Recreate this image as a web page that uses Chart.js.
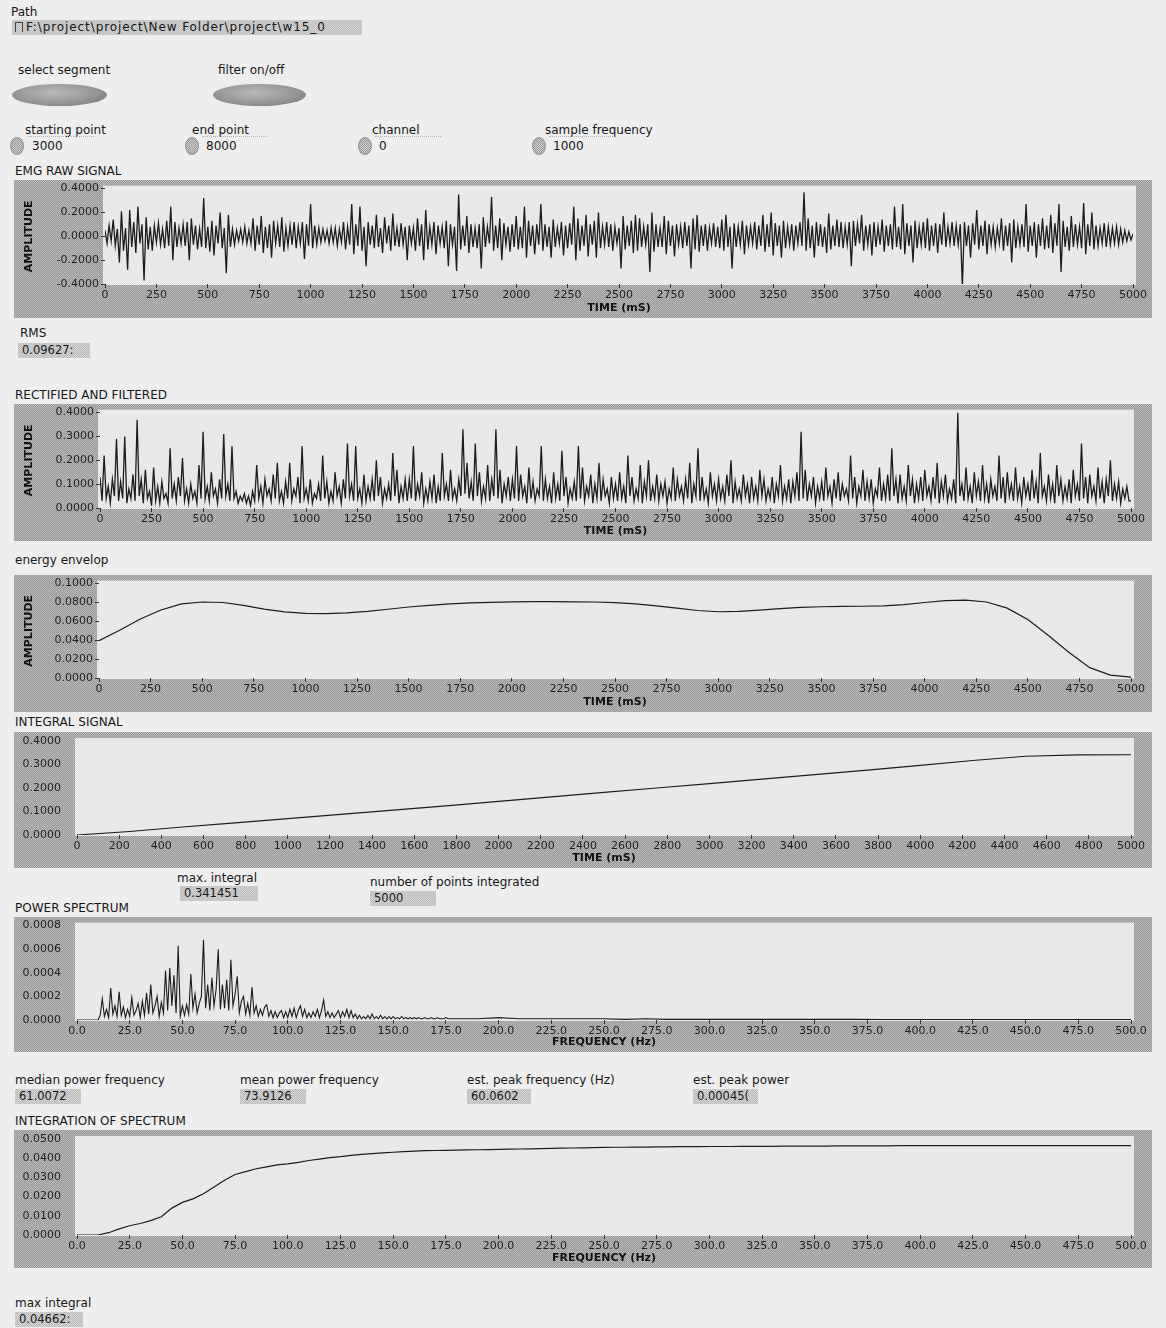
<!DOCTYPE html>
<html>
<head>
<meta charset="utf-8">
<title>EMG analysis panel</title>
<script src="https://cdn.jsdelivr.net/npm/chart.js@4.4.1/dist/chart.umd.min.js"></script>
<style>
body { margin: 0; width: 1166px; height: 1328px; background: #eeeeee; font-family: "DejaVu Sans", sans-serif; color: #161616; position: relative; overflow: hidden; }
.lbl { position: absolute; font-size: 12px; line-height: 14px; white-space: nowrap; }
.ind { position: absolute; height: 15px; background: repeating-conic-gradient(#bdbdbd 0 25%, #d3d3d3 0 50%) 0 0/2px 2px; font-size: 11.5px; line-height: 15px; padding-left: 4px; box-sizing: border-box; white-space: nowrap; overflow: hidden; }
.frame { position: absolute; left: 14px; width: 1138px; background: repeating-conic-gradient(#979797 0 25%, #bababa 0 50%) 0 0/2px 2px; }
.frame canvas { position: absolute; left: 0; top: 0; }
.oval { position: absolute; height: 22px; border-radius: 50%; background: radial-gradient(ellipse at 45% 40%, #b9b9b9 0%, #999999 50%, #7a7a7a 90%, rgba(120,120,120,0) 100%); }
.spin { position: absolute; width: 14px; height: 18px; border-radius: 50%; background: repeating-conic-gradient(#9a9a9a 0 25%, #d0d0d0 0 50%) 0 0/2px 2px; box-shadow: inset 0 0 3px #777; }
.num { position: absolute; height: 18px; border-top: 1px dotted #b4b4b4; font-size: 12px; line-height: 19px; padding-left: 4px; box-sizing: border-box; }
</style>
</head>
<body>

<!-- controls -->
<div class="lbl" style="left:11px; top:5px;">Path</div>
<div class="ind" style="left:12px; top:20px; width:350px; font-size:12px; letter-spacing:0.9px; padding-left:3px;"><span style="display:inline-block; width:6px; height:9px; border:1px solid #444; border-bottom:none; margin-right:3px; vertical-align:-1px;"></span>F:\project\project\New Folder\project\w15_0</div>

<div class="lbl" style="left:18px; top:63px;">select segment</div>
<div class="oval" style="left:12px; top:84px; width:95px;"></div>
<div class="lbl" style="left:218px; top:63px;">filter on/off</div>
<div class="oval" style="left:213px; top:84px; width:93px;"></div>

<div class="lbl" style="left:25px; top:123px;">starting point</div>
<div class="spin" style="left:10px; top:137px;"></div>
<div class="num" style="left:28px; top:136px; width:66px;">3000</div>
<div class="lbl" style="left:192px; top:123px;">end point</div>
<div class="spin" style="left:185px; top:137px;"></div>
<div class="num" style="left:202px; top:136px; width:66px;">8000</div>
<div class="lbl" style="left:372px; top:123px;">channel</div>
<div class="spin" style="left:358px; top:137px;"></div>
<div class="num" style="left:375px; top:136px; width:66px;">0</div>
<div class="lbl" style="left:545px; top:123px;">sample frequency</div>
<div class="spin" style="left:532px; top:137px;"></div>
<div class="num" style="left:549px; top:136px; width:64px;">1000</div>

<!-- graphs -->
<div class="lbl" style="left:15px; top:164px;">EMG RAW SIGNAL</div>
<div class="frame" style="top:180px; height:138px;"><canvas id="raw-chart" width="1138" height="138"></canvas></div>

<div class="lbl" style="left:20px; top:326px;">RMS</div>
<div class="ind" style="left:18px; top:343px; width:72px;">0.09627:</div>

<div class="lbl" style="left:15px; top:388px;">RECTIFIED AND FILTERED</div>
<div class="frame" style="top:404px; height:137px;"><canvas id="rect-chart" width="1138" height="137"></canvas></div>

<div class="lbl" style="left:15px; top:553px;">energy envelop</div>
<div class="frame" style="top:575px; height:137px;"><canvas id="env-chart" width="1138" height="137"></canvas></div>

<div class="lbl" style="left:15px; top:715px;">INTEGRAL SIGNAL</div>
<div class="frame" style="top:732px; height:136px;"><canvas id="int-chart" width="1138" height="136"></canvas></div>

<div class="lbl" style="left:177px; top:871px;">max. integral</div>
<div class="ind" style="left:180px; top:886px; width:78px;">0.341451</div>
<div class="lbl" style="left:370px; top:875px;">number of points integrated</div>
<div class="ind" style="left:370px; top:891px; width:66px;">5000</div>

<div class="lbl" style="left:15px; top:901px;">POWER SPECTRUM</div>
<div class="frame" style="top:917px; height:135px;"><canvas id="spec-chart" width="1138" height="135"></canvas></div>

<div class="lbl" style="left:15px; top:1073px;">median power frequency</div>
<div class="ind" style="left:15px; top:1089px; width:66px;">61.0072</div>
<div class="lbl" style="left:240px; top:1073px;">mean power frequency</div>
<div class="ind" style="left:240px; top:1089px; width:66px;">73.9126</div>
<div class="lbl" style="left:467px; top:1073px;">est. peak frequency (Hz)</div>
<div class="ind" style="left:467px; top:1089px; width:64px;">60.0602</div>
<div class="lbl" style="left:693px; top:1073px;">est. peak power</div>
<div class="ind" style="left:693px; top:1089px; width:65px;">0.00045(</div>

<div class="lbl" style="left:15px; top:1114px;">INTEGRATION OF SPECTRUM</div>
<div class="frame" style="top:1130px; height:138px;"><canvas id="cum-chart" width="1138" height="138"></canvas></div>

<div class="lbl" style="left:15px; top:1296px;">max integral</div>
<div class="ind" style="left:15px; top:1312px; width:68px;">0.04662:</div>

<script>
// sample spacing of the time traces (ms)
const rawStep = 10;
const envStep = 100;
const intStep = 250;

// EMG raw signal, every 10 ms from 0 to 5000 (one row = 500 ms)
const rawSignal = [
    0.05, -0.06, 0.09, -0.04, 0.14, -0.08, 0.06, -0.22, 0.21, -0.12, 0.07, -0.28, 0.22, -0.09, 0.12, -0.14, 0.25, -0.06, 0.1, -0.37, 0.16, -0.11, 0.08, -0.12, 0.09, -0.05, 0.11, -0.07, 0.06, -0.1, 0.13, -0.08, 0.25, -0.2, 0.12, -0.09, 0.07, -0.06, 0.1, -0.08, 0.12, -0.2, 0.15, -0.07, 0.09, -0.11, 0.06, -0.09, 0.32, -0.1,
    0.08, -0.13, 0.13, -0.16, 0.09, -0.06, 0.2, -0.1, 0.07, -0.31, 0.18, -0.09, 0.06, -0.07, 0.05, -0.04, 0.06, -0.05, 0.08, -0.06, 0.05, -0.06, 0.15, -0.12, 0.09, -0.07, 0.17, -0.14, 0.08, -0.1, 0.1, -0.18, 0.13, -0.06, 0.09, -0.09, 0.16, -0.13, 0.07, -0.08, 0.09, -0.07, 0.12, -0.1, 0.08, -0.06, 0.12, -0.19, 0.1, -0.08,
    0.27, -0.1, 0.09, -0.07, 0.07, -0.05, 0.06, -0.04, 0.05, -0.06, 0.07, -0.05, 0.07, -0.08, 0.06, -0.05, 0.12, -0.11, 0.08, -0.07, 0.27, -0.15, 0.1, -0.08, 0.25, -0.12, 0.08, -0.25, 0.12, -0.07, 0.09, -0.1, 0.18, -0.09, 0.07, -0.14, 0.16, -0.06, 0.09, -0.12, 0.19, -0.08, 0.07, -0.09, 0.11, -0.07, 0.08, -0.2, 0.09, -0.06,
    0.07, -0.12, 0.15, -0.08, 0.1, -0.2, 0.22, -0.11, 0.08, -0.07, 0.12, -0.15, 0.09, -0.06, 0.08, -0.1, 0.13, -0.25, 0.1, -0.07, 0.08, -0.29, 0.35, -0.11, 0.09, -0.08, 0.17, -0.14, 0.1, -0.09, 0.07, -0.1, 0.1, -0.27, 0.16, -0.09, 0.08, -0.06, 0.33, -0.12, 0.09, -0.1, 0.15, -0.2, 0.11, -0.07, 0.08, -0.13, 0.1, -0.09,
    0.17, -0.11, 0.08, -0.1, 0.25, -0.18, 0.13, -0.08, 0.09, -0.15, 0.1, -0.07, 0.27, -0.12, 0.1, -0.09, 0.08, -0.18, 0.14, -0.09, 0.07, -0.06, 0.12, -0.16, 0.09, -0.1, 0.11, -0.07, 0.25, -0.2, 0.15, -0.12, 0.09, -0.08, 0.18, -0.17, 0.1, -0.07, 0.13, -0.18, 0.2, -0.1, 0.08, -0.07, 0.12, -0.09, 0.1, -0.12, 0.08, -0.06,
    0.07, -0.27, 0.17, -0.11, 0.09, -0.08, 0.13, -0.14, 0.18, -0.12, 0.15, -0.09, 0.08, -0.07, 0.1, -0.3, 0.2, -0.13, 0.1, -0.09, 0.07, -0.09, 0.17, -0.15, 0.13, -0.08, 0.09, -0.17, 0.1, -0.07, 0.08, -0.1, 0.12, -0.08, 0.09, -0.27, 0.15, -0.11, 0.18, -0.13, 0.09, -0.08, 0.1, -0.12, 0.07, -0.06, 0.11, -0.09, 0.08, -0.1,
    0.14, -0.12, 0.18, -0.09, 0.08, -0.27, 0.11, -0.09, 0.08, -0.07, 0.13, -0.15, 0.09, -0.07, 0.08, -0.06, 0.12, -0.11, 0.09, -0.08, 0.18, -0.13, 0.1, -0.09, 0.2, -0.16, 0.11, -0.08, 0.09, -0.18, 0.13, -0.1, 0.08, -0.07, 0.1, -0.12, 0.09, -0.06, 0.12, -0.08, 0.37, -0.12, 0.15, -0.1, 0.09, -0.18, 0.12, -0.08, 0.1, -0.09,
    0.08, -0.14, 0.19, -0.11, 0.09, -0.08, 0.14, -0.09, 0.12, -0.1, 0.08, -0.07, 0.12, -0.25, 0.13, -0.08, 0.1, -0.06, 0.18, -0.12, 0.09, -0.07, 0.1, -0.16, 0.12, -0.09, 0.08, -0.07, 0.14, -0.13, 0.09, -0.08, 0.1, -0.11, 0.25, -0.09, 0.08, -0.11, 0.27, -0.15, 0.11, -0.08, 0.09, -0.22, 0.13, -0.1, 0.08, -0.07, 0.12, -0.1,
    0.15, -0.12, 0.09, -0.08, 0.11, -0.14, 0.1, -0.07, 0.2, -0.09, 0.08, -0.06, 0.12, -0.08, 0.09, -0.07, 0.1, -0.43, 0.12, -0.08, 0.09, -0.18, 0.11, -0.07, 0.22, -0.11, 0.09, -0.08, 0.13, -0.15, 0.1, -0.07, 0.08, -0.09, 0.07, -0.06, 0.15, -0.12, 0.09, -0.08, 0.11, -0.22, 0.14, -0.1, 0.08, -0.07, 0.1, -0.09, 0.27, -0.13,
    0.09, -0.08, 0.12, -0.18, 0.1, -0.08, 0.15, -0.11, 0.09, -0.1, 0.18, -0.14, 0.11, -0.08, 0.27, -0.3, 0.13, -0.09, 0.08, -0.12, 0.17, -0.09, 0.1, -0.07, 0.08, -0.1, 0.28, -0.15, 0.1, -0.08, 0.2, -0.11, 0.09, -0.08, 0.07, -0.06, 0.11, -0.09, 0.08, -0.07, 0.07, -0.06, 0.08, -0.07, 0.06, -0.05, 0.05, -0.04, 0.04, -0.03,
    0.02
];

// rectified and filtered, every 10 ms
const rectSignal = [
    0.13, 0.03, 0.22, 0.04, 0.09, 0.02, 0.12, 0.05, 0.29, 0.03, 0.11, 0.04, 0.30, 0.02, 0.08, 0.04, 0.14, 0.03, 0.37, 0.05, 0.12, 0.02, 0.16, 0.04, 0.07, 0.01, 0.17, 0.03, 0.09, 0.02, 0.11, 0.04, 0.06, 0.02, 0.25, 0.04, 0.10, 0.03, 0.13, 0.05, 0.21, 0.03, 0.08, 0.02, 0.10, 0.04, 0.07, 0.02, 0.18, 0.04,
    0.32, 0.04, 0.09, 0.03, 0.15, 0.05, 0.08, 0.02, 0.12, 0.04, 0.31, 0.05, 0.10, 0.03, 0.26, 0.04, 0.07, 0.02, 0.05, 0.03, 0.06, 0.02, 0.05, 0.01, 0.07, 0.03, 0.18, 0.04, 0.09, 0.02, 0.12, 0.05, 0.08, 0.03, 0.14, 0.04, 0.19, 0.03, 0.07, 0.02, 0.11, 0.04, 0.19, 0.03, 0.08, 0.05, 0.13, 0.02, 0.26, 0.04,
    0.08, 0.03, 0.12, 0.02, 0.06, 0.04, 0.10, 0.03, 0.22, 0.04, 0.11, 0.02, 0.07, 0.03, 0.15, 0.05, 0.09, 0.02, 0.12, 0.04, 0.27, 0.05, 0.10, 0.03, 0.26, 0.04, 0.08, 0.02, 0.14, 0.03, 0.09, 0.04, 0.12, 0.03, 0.20, 0.05, 0.13, 0.02, 0.08, 0.04, 0.10, 0.03, 0.23, 0.05, 0.16, 0.02, 0.09, 0.04, 0.12, 0.03,
    0.12, 0.04, 0.26, 0.03, 0.10, 0.05, 0.15, 0.02, 0.08, 0.03, 0.11, 0.04, 0.14, 0.02, 0.09, 0.03, 0.23, 0.05, 0.10, 0.03, 0.16, 0.04, 0.08, 0.03, 0.12, 0.05, 0.33, 0.06, 0.19, 0.04, 0.11, 0.03, 0.27, 0.05, 0.15, 0.03, 0.09, 0.04, 0.18, 0.03, 0.12, 0.05, 0.33, 0.04, 0.16, 0.02, 0.10, 0.05, 0.13, 0.03,
    0.12, 0.04, 0.26, 0.03, 0.14, 0.05, 0.09, 0.02, 0.17, 0.04, 0.11, 0.03, 0.08, 0.05, 0.26, 0.03, 0.12, 0.04, 0.09, 0.02, 0.15, 0.04, 0.10, 0.03, 0.24, 0.05, 0.13, 0.02, 0.08, 0.04, 0.11, 0.03, 0.26, 0.04, 0.17, 0.03, 0.09, 0.05, 0.14, 0.02, 0.10, 0.04, 0.19, 0.03, 0.12, 0.05, 0.08, 0.02, 0.13, 0.04,
    0.10, 0.03, 0.15, 0.04, 0.09, 0.02, 0.22, 0.05, 0.13, 0.03, 0.08, 0.04, 0.18, 0.02, 0.11, 0.05, 0.20, 0.03, 0.09, 0.04, 0.14, 0.03, 0.10, 0.05, 0.11, 0.02, 0.08, 0.04, 0.17, 0.03, 0.12, 0.05, 0.09, 0.03, 0.12, 0.04, 0.19, 0.02, 0.10, 0.05, 0.25, 0.03, 0.13, 0.04, 0.08, 0.02, 0.15, 0.05, 0.10, 0.03,
    0.12, 0.04, 0.09, 0.03, 0.14, 0.05, 0.20, 0.02, 0.11, 0.04, 0.08, 0.03, 0.14, 0.05, 0.10, 0.02, 0.13, 0.04, 0.09, 0.03, 0.16, 0.05, 0.12, 0.03, 0.08, 0.04, 0.13, 0.02, 0.10, 0.05, 0.18, 0.03, 0.09, 0.04, 0.12, 0.02, 0.11, 0.05, 0.15, 0.03, 0.32, 0.04, 0.16, 0.03, 0.10, 0.05, 0.13, 0.02, 0.09, 0.04,
    0.11, 0.03, 0.17, 0.05, 0.09, 0.02, 0.12, 0.04, 0.15, 0.03, 0.10, 0.05, 0.08, 0.03, 0.22, 0.04, 0.13, 0.02, 0.09, 0.05, 0.16, 0.03, 0.11, 0.04, 0.12, 0.02, 0.08, 0.05, 0.17, 0.03, 0.10, 0.04, 0.14, 0.03, 0.25, 0.05, 0.12, 0.02, 0.14, 0.04, 0.09, 0.03, 0.18, 0.05, 0.12, 0.02, 0.10, 0.04, 0.13, 0.03,
    0.16, 0.05, 0.09, 0.03, 0.13, 0.04, 0.19, 0.02, 0.11, 0.05, 0.14, 0.03, 0.08, 0.04, 0.12, 0.02, 0.40, 0.05, 0.10, 0.03, 0.17, 0.04, 0.09, 0.02, 0.15, 0.05, 0.11, 0.03, 0.18, 0.04, 0.10, 0.02, 0.12, 0.05, 0.09, 0.03, 0.22, 0.04, 0.13, 0.02, 0.15, 0.05, 0.10, 0.03, 0.17, 0.04, 0.09, 0.02, 0.13, 0.05,
    0.10, 0.03, 0.16, 0.04, 0.11, 0.02, 0.23, 0.05, 0.09, 0.03, 0.14, 0.04, 0.10, 0.02, 0.18, 0.05, 0.12, 0.03, 0.09, 0.04, 0.12, 0.02, 0.16, 0.05, 0.10, 0.03, 0.27, 0.04, 0.13, 0.02, 0.14, 0.05, 0.09, 0.03, 0.17, 0.04, 0.11, 0.02, 0.12, 0.05, 0.20, 0.03, 0.10, 0.04, 0.11, 0.02, 0.08, 0.04, 0.09, 0.03,
    0.03
];

// energy envelope, every 100 ms
const envelope = [
    0.0396, 0.0505, 0.0625, 0.0720, 0.0785, 0.0805, 0.0800, 0.0770, 0.0730, 0.0700,
    0.0685, 0.0682, 0.0690, 0.0705, 0.0728, 0.0752, 0.0770, 0.0785, 0.0795, 0.0802,
    0.0806, 0.0808, 0.0808, 0.0807, 0.0805, 0.0798, 0.0785, 0.0765, 0.0740, 0.0715,
    0.0702, 0.0705, 0.0718, 0.0735, 0.0748, 0.0755, 0.0758, 0.0760, 0.0765, 0.0778,
    0.0800, 0.0820, 0.0825, 0.0805, 0.0740, 0.0620, 0.0450, 0.0270, 0.0110, 0.0030,
    0.0010
];

// integral signal, every 250 ms
const integral = [
    0, 0.015, 0.034, 0.052, 0.070, 0.088, 0.106, 0.124, 0.143, 0.162, 0.181,
    0.200, 0.219, 0.238, 0.257, 0.276, 0.296, 0.317, 0.335, 0.341, 0.3415
];

// power spectrum: 1 Hz bins from 0 to 179 Hz, then 10 Hz bins from 180 to 500 Hz
const specStep = 1;
const tailStart = 180;
const tailStep = 10;
const spectrum = [
    0, 0, 0, 0, 0, 0, 0, 0, 0, 0,
    0, 0.00004, 0.00018, 0.00003, 0.00009, 0.00002, 0.00027, 0.00005, 0.00012, 0.00003,
    0.00024, 0.00004, 0.00011, 0.00002, 0.00009, 0.00003, 0.00019, 0.00004, 0.00008, 0.00014,
    0.00002, 0.00016, 0.00004, 0.00023, 0.00005, 0.00030, 0.00006, 0.00012, 0.00020, 0.00003,
    0.00015, 0.00006, 0.00042, 0.00008, 0.00044, 0.00012, 0.00038, 0.00006, 0.00063, 0.00003,
    0.00012, 0.00004, 0.00013, 0.00005, 0.00039, 0.00010, 0.00022, 0.00006, 0.00014, 0.00020,
    0.00068, 0.00010, 0.00030, 0.00008, 0.00036, 0.00012, 0.00026, 0.00060, 0.00009, 0.00030,
    0.00010, 0.00034, 0.00008, 0.00051, 0.00012, 0.00022, 0.00037, 0.00006, 0.00016, 0.00020,
    0.00005, 0.00014, 0.00004, 0.00028, 0.00006, 0.00012, 0.00003, 0.00009, 0.00004, 0.00011,
    0.00013, 0.00003, 0.00008, 0.00002, 0.00007, 0.00002, 0.00006, 0.00008, 0.00002, 0.00007,
    0.00002, 0.00009, 0.00003, 0.00010, 0.00002, 0.00008, 0.00012, 0.00003, 0.00009, 0.00002,
    0.00006, 0.00002, 0.00007, 0.00003, 0.00009, 0.00002, 0.00008, 0.00017, 0.00003, 0.00007,
    0.00002, 0.00006, 0.00002, 0.00005, 0.00008, 0.00002, 0.00007, 0.00003, 0.00009, 0.00002,
    0.00008, 0.00002, 0.00005, 0.00001, 0.00004, 0.00001, 0.00003, 0.00001, 0.00004, 0.00001,
    0.00005, 0.00001, 0.00003, 0.00001, 0.00004, 0.00001, 0.00003, 0.00001, 0.00003, 0.00001,
    0.00003, 0.00001, 0.00002, 0.00001, 0.00003, 0.00001, 0.00002, 0.00001, 0.00002, 0.00001,
    0.00002, 0.00001, 0.00002, 0.00001, 0.00001, 0.00002, 0.00001, 0.00001, 0.00002, 0.00001,
    0.00001, 0.00002, 0.00001, 0.00001, 0.00001, 0.00002, 0.00001, 0.00001, 0.00001, 0.00001
];
const spectrumTail = [
    0.00001, 0.00001, 0.00002, 0.00001, 0.00001, 0.00001, 0.00001, 0.00001, 0.000005, 0.00001,
    0.000005, 0.000005, 0.000005, 0.000005, 0.000005, 0.000005, 0.000005, 0.000005, 0.000005, 0.000005,
    0.000003, 0.000003, 0.000003, 0.000003, 0.000003, 0.000003, 0.000003, 0.000003, 0.000003, 0.000003,
    0.000003, 0.000003, 0.000003
];

// integration of spectrum, every 5 Hz
const cumStep = 5;
const cumSpectrum = [
    0, 0, 0, 0.0012, 0.0032, 0.0048, 0.0060, 0.0075, 0.0095, 0.0140,
    0.0170, 0.0188, 0.0215, 0.0250, 0.0285, 0.0315, 0.0330, 0.0345, 0.0355, 0.0365,
    0.0370, 0.0378, 0.0388, 0.0395, 0.0403, 0.0408, 0.0415, 0.0420, 0.0424, 0.0428,
    0.0431, 0.0434, 0.0437, 0.0439, 0.0440, 0.0441, 0.0442, 0.0443, 0.0444, 0.0445,
    0.0446, 0.0447, 0.0448, 0.0449, 0.0450, 0.0451, 0.0452, 0.0453, 0.0454, 0.0455,
    0.0456, 0.0457, 0.0457, 0.0458, 0.0458, 0.0459, 0.0459, 0.0460, 0.0460, 0.0460,
    0.0461, 0.0461, 0.0461, 0.0462, 0.0462, 0.0462, 0.0462, 0.0463, 0.0463, 0.0463,
    0.0463, 0.0463, 0.0464, 0.0464, 0.0464, 0.0464, 0.0464, 0.0464, 0.0465, 0.0465,
    0.0465, 0.0465, 0.0465, 0.0465, 0.0465, 0.0465, 0.0466, 0.0466, 0.0466, 0.0466,
    0.0466, 0.0466, 0.0466, 0.0466, 0.0466, 0.0466, 0.0466, 0.0466, 0.0466, 0.0466,
    0.0466
];

// x tick spacing
const timeTicks = 250;
const integralTicks = 200;
const freqTicks = 25;

// turn a value list into {x, y} points
function toPoints(values, start, step) {
    return values.map((v, i) => ({ x: start + i * step, y: v }));
}

const specPoints = toPoints(spectrum, 0, specStep).concat(toPoints(spectrumTail, tailStart, tailStep));

// light dithered plot area, like the LabVIEW graph
function dither(ctx, a, b) {
    const c = document.createElement("canvas");
    c.width = 2; c.height = 2;
    const g = c.getContext("2d");
    g.fillStyle = a; g.fillRect(0, 0, 2, 2);
    g.fillStyle = b; g.fillRect(0, 0, 1, 1); g.fillRect(1, 1, 1, 1);
    return ctx.createPattern(c, "repeat");
}

const plotBg = {
    id: "plotBg",
    beforeDraw(chart) {
        const a = chart.chartArea;
        const ctx = chart.ctx;
        ctx.save();
        ctx.fillStyle = dither(ctx, "#e3e3e3", "#eeeeee");
        ctx.fillRect(a.left - 2, a.top - 3, a.right - a.left + 5, a.bottom - a.top + 4);
        ctx.restore();
    }
};

const tickFont = { family: "DejaVu Sans", size: 11 };
const titleFont = { family: "DejaVu Sans", size: 11, weight: "bold" };

function drawGraph(id, o) {
    // short y tick marks sitting next to the labels (away from the plot) when yGap is set
    const yGrid = o.yGap
        ? { drawOnChartArea: false, drawTicks: true, tickLength: 4 + o.yGap, color: "#333", tickBorderDash: [4, 40], tickBorderDashOffset: o.yGap }
        : { drawOnChartArea: false, drawTicks: true, tickLength: 4, color: "#333" };
    new Chart(document.getElementById(id), {
        type: "line",
        data: {
            datasets: [{
                data: o.points,
                borderColor: "#1c1c1c",
                borderWidth: o.lineWidth || 1,
                pointRadius: 0,
                tension: 0
            }]
        },
        options: {
            responsive: false,
            animation: false,
            devicePixelRatio: 1,
            events: [],
            layout: { padding: { top: o.top, right: o.right, left: 0, bottom: 0 } },
            plugins: { legend: { display: false }, tooltip: { enabled: false } },
            scales: {
                x: {
                    type: "linear",
                    min: o.xMin,
                    max: o.xMax,
                    afterFit: s => { s.height = o.xH; },
                    border: { display: false },
                    grid: { drawOnChartArea: false, drawTicks: true, tickLength: 4, color: "#333" },
                    ticks: {
                        stepSize: o.xStep, autoSkip: false, maxRotation: 0, padding: 1,
                        color: "#1e1e1e", font: tickFont,
                        callback: v => v.toFixed(o.xDec)
                    },
                    title: { display: true, text: o.xTitle, color: "#111", font: titleFont, padding: { top: 0, bottom: 3 } }
                },
                y: {
                    type: "linear",
                    min: o.yMin,
                    max: o.yMax,
                    afterFit: s => { s.width = o.yW; },
                    border: { display: false },
                    grid: yGrid,
                    ticks: {
                        stepSize: o.yStep, padding: 2,
                        color: "#1e1e1e", font: tickFont,
                        callback: v => v.toFixed(4)
                    },
                    title: { display: !!o.yTitle, text: o.yTitle || "", color: "#111", font: titleFont, padding: { top: 9, bottom: 0 } }
                }
            }
        },
        plugins: [plotBg]
    });
}

drawGraph("raw-chart", {
    points: toPoints(rawSignal, 0, rawStep),
    lineWidth: 1.3,
    xMin: 0, xMax: 5000, xStep: timeTicks, xDec: 0, xTitle: "TIME (mS)",
    yMin: -0.4, yMax: 0.4, yStep: 0.2, yTitle: "AMPLITUDE",
    yW: 91, xH: 34, top: 8, right: 19
});

drawGraph("rect-chart", {
    points: toPoints(rectSignal, 0, rawStep),
    lineWidth: 1.3,
    xMin: 0, xMax: 5000, xStep: timeTicks, xDec: 0, xTitle: "TIME (mS)",
    yMin: 0, yMax: 0.4, yStep: 0.1, yTitle: "AMPLITUDE",
    yW: 86, xH: 33, top: 8, right: 21
});

drawGraph("env-chart", {
    points: toPoints(envelope, 0, envStep),
    lineWidth: 1.2,
    xMin: 0, xMax: 5000, xStep: timeTicks, xDec: 0, xTitle: "TIME (mS)",
    yMin: 0, yMax: 0.1, yStep: 0.02, yTitle: "AMPLITUDE",
    yW: 85, xH: 34, top: 8, right: 21
});

drawGraph("int-chart", {
    points: toPoints(integral, 0, intStep),
    lineWidth: 1.2,
    xMin: 0, xMax: 5000, xStep: integralTicks, xDec: 0, xTitle: "TIME (mS)",
    yMin: 0, yMax: 0.4, yStep: 0.1, yGap: 10,
    yW: 63, xH: 33, top: 9, right: 21
});

drawGraph("spec-chart", {
    points: specPoints,
    lineWidth: 1.1,
    xMin: 0, xMax: 500, xStep: freqTicks, xDec: 1, xTitle: "FREQUENCY (Hz)",
    yMin: 0, yMax: 0.0008, yStep: 0.0002, yGap: 10,
    yW: 63, xH: 32, top: 8, right: 21
});

drawGraph("cum-chart", {
    points: toPoints(cumSpectrum, 0, cumStep),
    lineWidth: 1.2,
    xMin: 0, xMax: 500, xStep: freqTicks, xDec: 1, xTitle: "FREQUENCY (Hz)",
    yMin: 0, yMax: 0.05, yStep: 0.01, yGap: 10,
    yW: 63, xH: 33, top: 9, right: 21
});
</script>
</body>
</html>
